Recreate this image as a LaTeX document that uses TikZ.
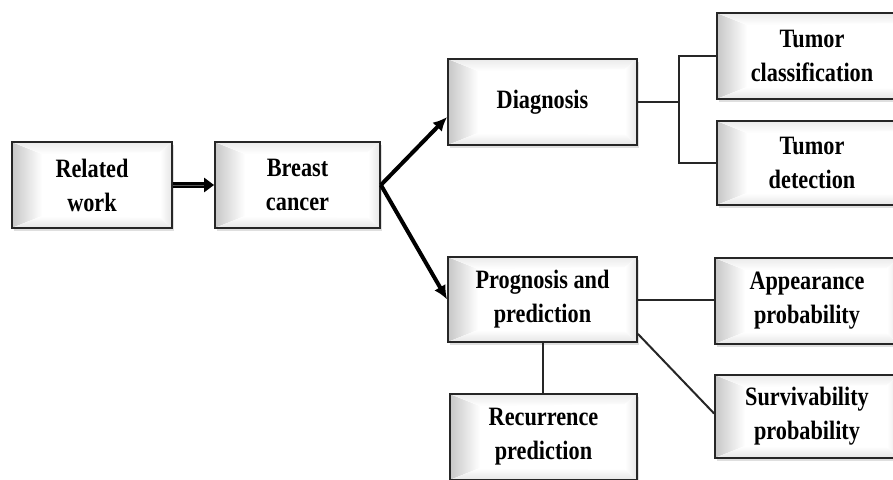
\documentclass[tikz,border=0pt]{standalone}
\usepackage{fontspec}
\setmainfont{Liberation Serif}[FakeStretch=0.84]
\usetikzlibrary{shadows,arrows.meta,calc}
\tikzset{
  bx/.style={draw=black!85, line width=1.8pt, fill=white, align=center,
    font=\fontsize{26.5}{34}\selectfont\bfseries, inner sep=0pt,
    minimum height=86pt,
    drop shadow={opacity=0.25, shadow xshift=1.5pt, shadow yshift=-3pt},
    path picture={
      \coordinate (pnw) at (path picture bounding box.north west);
      \coordinate (pne) at (path picture bounding box.north east);
      \coordinate (psw) at (path picture bounding box.south west);
      \coordinate (pse) at (path picture bounding box.south east);
      \fill[left color=black!22, right color=white] (psw) -- (pnw) -- ($(pnw)+(30pt,-12pt)$) -- ($(psw)+(30pt,12pt)$) -- cycle;
      \fill[top color=black!8, bottom color=white] (pnw) -- (pne) -- ($(pne)+(-12pt,-10pt)$) -- ($(pnw)+(30pt,-12pt)$) -- cycle;
      \fill[left color=white, right color=black!10] (pne) -- (pse) -- ($(pse)+(-12pt,10pt)$) -- ($(pne)+(-12pt,-10pt)$) -- cycle;
      \fill[bottom color=black!10, top color=white] (psw) -- (pse) -- ($(pse)+(-12pt,10pt)$) -- ($(psw)+(30pt,12pt)$) -- cycle;
    }},
  conn/.style={draw=black!85, line width=2pt},
  bigarrow/.style={draw=black, line width=4pt, -{Latex[length=14pt,width=13pt]}}
}
\begin{document}
\begin{tikzpicture}[x=1pt,y=-1pt]
\useasboundingbox (0,0) rectangle (893,479);
\clip (0,0) rectangle (893,479);
\node[bx, minimum width=160pt] (rw) at (92,185) {Related\\work};
\node[bx, minimum width=165pt] (bc) at (297.5,185) {Breast\\cancer};
\node[bx, minimum width=189pt] (dg) at (542.5,102) {Diagnosis};
\node[bx, minimum width=190pt] (tc) at (812,56) {Tumor\\classification};
\node[bx, minimum width=190pt, minimum height=84pt] (td) at (812,163) {Tumor\\detection};
\node[bx, minimum width=189pt, minimum height=85pt] (pp) at (542.5,299.5) {Prognosis and\\prediction};
\node[bx, minimum width=184pt] (ap) at (807,301) {Appearance\\probability};
\node[bx, minimum width=184pt, minimum height=83pt] (sp) at (807,416.5) {Survivability\\probability};
\node[bx, minimum width=187pt] (rp) at (543.5,437) {Recurrence\\prediction};
% arrows
\draw[draw=black, line width=6pt, -{Triangle[length=10pt,width=14pt]}] (rw.east) -- (bc.west);
\draw[draw=black!65, line width=1pt, shorten >=10pt] (rw.east) -- (bc.west);
\draw[bigarrow] (bc.east) -- ($(dg.west)+(0,15)$);
\draw[bigarrow] (bc.east) -- (pp.west);
% connectors
\coordinate (j) at (679,102);
\draw[conn] (dg.east) -- (j);
\draw[conn] (tc.west) -| (j) |- (td.west);
\draw[conn] (pp.east) -- (pp.east -| ap.west);
\draw[conn] ($(pp.south east)+(0,-9)$) -- ($(sp.west)+(0,-3)$);
\draw[conn] (pp.south) -- (pp.south |- rp.north);
\end{tikzpicture}
\end{document}
